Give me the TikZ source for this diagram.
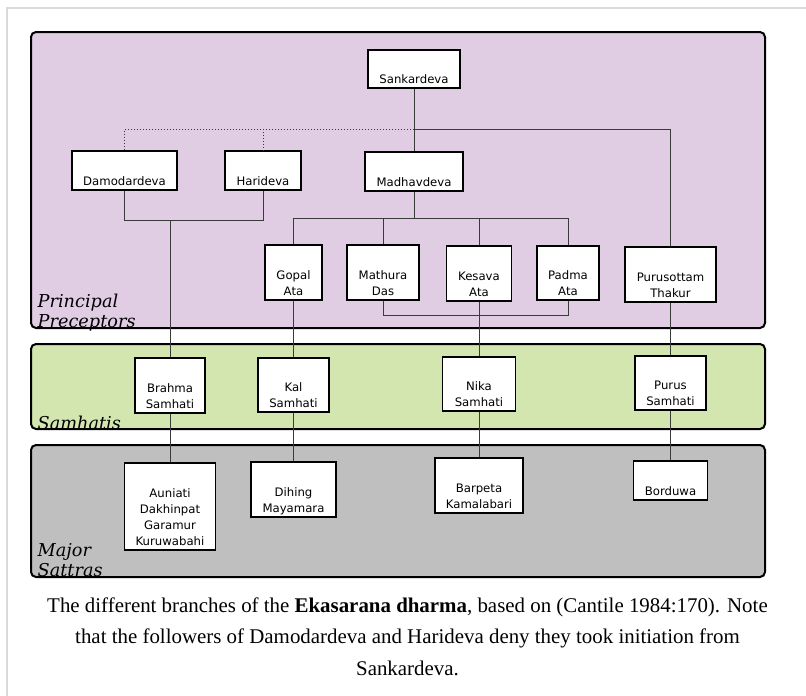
\documentclass[tikz,border=0pt]{standalone}
\usepackage{fontspec}
\setmainfont{Liberation Serif}
\newfontfamily\boxfont{DejaVu Sans}
\newfontfamily\labfont{DejaVu Serif}
\definecolor{prefill}{HTML}{E0CDE4}
\definecolor{samfill}{HTML}{D3E6AF}
\definecolor{satfill}{HTML}{BFBFBF}
\definecolor{framegray}{HTML}{DADADA}
\definecolor{linkcol}{HTML}{3A3A3A}
\tikzset{
  region/.style={draw=black, line width=2pt, rounded corners=5pt},
  pbox/.style={draw=black, line width=1.6pt, fill=white, inner sep=0pt, anchor=base,
    font=\boxfont\fontsize{11.7}{16}\selectfont, text depth=5pt},
  reglabel/.style={inner sep=0pt, anchor=base west, font=\labfont\itshape\fontsize{17.7}{20}\selectfont},
  link/.style={draw=linkcol, line width=1pt},
  dotlink/.style={draw=linkcol, line width=1pt, dotted},
  captext/.style={inner sep=0pt, anchor=base, font=\fontsize{20.9}{32}\selectfont}
}
\newcommand{\mlc}[1]{\begin{tabular}[b]{@{}c@{}}#1\end{tabular}}
\newcommand{\mll}[1]{\begin{tabular}[b]{@{}l@{}}#1\end{tabular}}
\begin{document}
\begin{tikzpicture}[x=1pt,y=-1pt]
\useasboundingbox (0,0) rectangle (806,696);
% frame
\draw[framegray, line width=2pt] (7,696) -- (7,8) -- (806,8);
% regions
\draw[region, fill=prefill] (31,32) rectangle (765,328);
\draw[region, fill=samfill] (31,344) rectangle (765,429);
\draw[region, fill=satfill] (31,445) rectangle (765,577);
% region labels
\node[reglabel] (labpre) at (37.5,327) {\mll{Principal\\Preceptors}};
\node[reglabel] (labsam) at (37.5,429) {Samhatis};
\node[reglabel] (labsat) at (37.5,576) {\mll{Major\\Sattras}};
% coordinates for junctions
\coordinate (j0) at (414,129);
\coordinate (dh) at (170,220);
\coordinate (mj) at (414,218);
% nodes
\node[pbox, minimum width=92pt, text height=33pt] (sank) at (414,83) {Sankardeva};
\node[pbox, minimum width=105pt, text height=34pt] (damo) at (124.5,185) {Damodardeva};
\node[pbox, minimum width=76pt, text height=34pt] (hari) at (263,185) {Harideva};
\node[pbox, minimum width=98pt, text height=34pt] (madh) at (414,186) {Madhavdeva};
\node[pbox, minimum width=57pt, text height=50pt] (gopal) at (293.5,295) {\mlc{Gopal\\Ata}};
\node[pbox, minimum width=72pt, text height=50pt] (mathura) at (383,295) {\mlc{Mathura\\Das}};
\node[pbox, minimum width=65pt, text height=50pt] (kesava) at (479,296) {\mlc{Kesava\\Ata}};
\node[pbox, minimum width=62pt, text height=49pt] (padma) at (568,295) {\mlc{Padma\\Ata}};
\node[pbox, minimum width=91pt, text height=50pt] (puru) at (670.5,297) {\mlc{Purusottam\\Thakur}};
\node[pbox, minimum width=70pt, text height=50pt] (brahma) at (170,408) {\mlc{Brahma\\Samhati}};
\node[pbox, minimum width=71pt, text height=49pt] (kal) at (293.5,407) {\mlc{Kal\\Samhati}};
\node[pbox, minimum width=73pt, text height=49pt] (nika) at (479,406) {\mlc{Nika\\Samhati}};
\node[pbox, minimum width=71pt, text height=49pt] (purus) at (670.5,405) {\mlc{Purus\\Samhati}};
\node[pbox, minimum width=91pt, text height=82pt] (auni) at (170,545) {\mlc{Auniati\\Dakhinpat\\Garamur\\Kuruwabahi}};
\node[pbox, minimum width=85pt, text height=50pt] (dihing) at (293.5,512) {\mlc{Dihing\\Mayamara}};
\node[pbox, minimum width=88pt, text height=50pt] (barpeta) at (479,508) {\mlc{Barpeta\\Kamalabari}};
\node[pbox, minimum width=74pt, text height=34pt] (bord) at (670.5,495) {Borduwa};
% connectors
\path[link] (j0) -| (puru.north);
\path[dotlink] (j0) -| (damo.north);
\path[dotlink] (hari.north |- j0) -- (hari.north);
\path[link] (sank.south) -- (madh.north);
\path[link] (damo.south) |- (hari.south |- dh) -- (hari.south);
\path[link] (dh) -- (brahma.north);
\path[link] (madh.south) -- (mj);
\path[link] (gopal.north) |- (padma.north |- mj) -- (padma.north);
\path[link] (mathura.north) -- (mathura.north |- mj);
\path[link] (kesava.north) -- (kesava.north |- mj);
\path[link] (mathura.south) |- (padma.south |- 0,315) -- (padma.south);
\path[link] (kesava.south) -- (nika.north);
\path[link] (gopal.south) -- (kal.north);
\path[link] (puru.south) -- (purus.north);
\path[link] (brahma.south) -- (auni.north);
\path[link] (kal.south) -- (dihing.north);
\path[link] (nika.south) -- (barpeta.north);
\path[link] (purus.south) -- (bord.north);
% caption
\node[captext] (cap1) at (407.5,612) {The different branches of the \textbf{Ekasarana dharma}, based on (Cantile 1984:170). Note};
\node[captext] (cap2) at (407.5,643.5) {that the followers of Damodardeva and Harideva deny they took initiation from};
\node[captext] (cap3) at (407.5,675) {Sankardeva.};
\end{tikzpicture}
\end{document}
